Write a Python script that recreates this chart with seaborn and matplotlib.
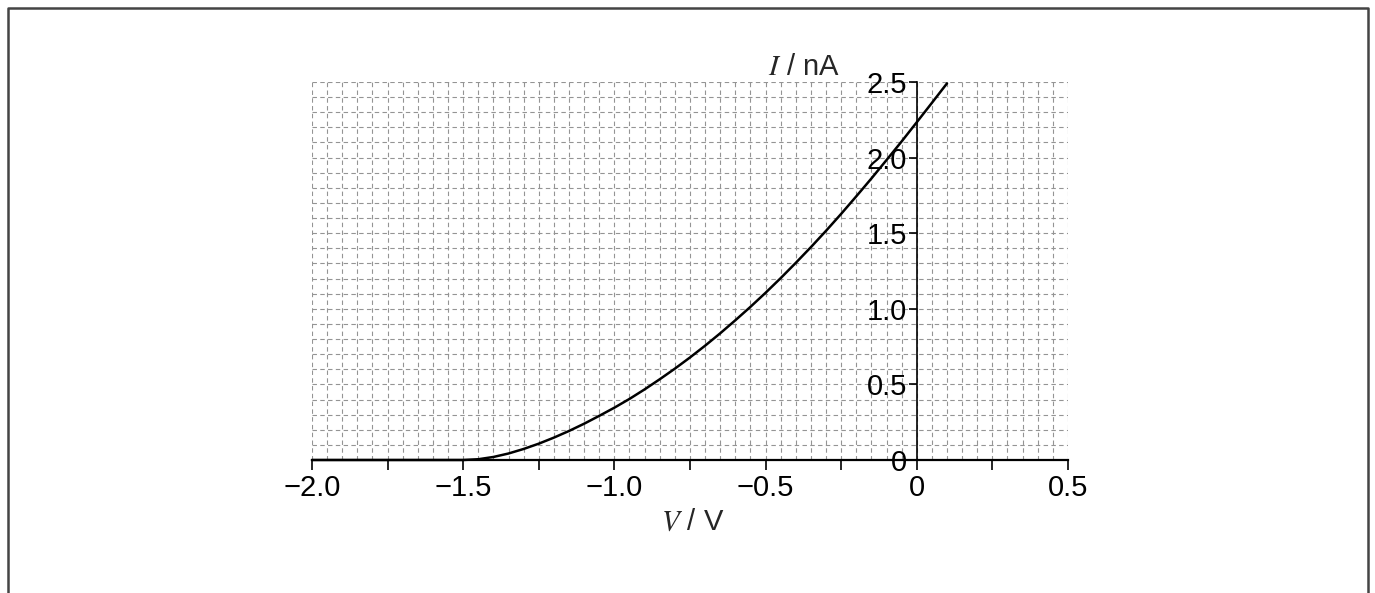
import pandas as pd
import seaborn as sns
import matplotlib.pyplot as plt
from matplotlib.ticker import MultipleLocator, FixedLocator, FixedFormatter

# I-V curve (V in volts, I in nA)
voltage = [-2.0, -1.5, -1.45, -1.4, -1.35, -1.3, -1.25, -1.2, -1.15, -1.1, -1.05,
           -1.0, -0.95, -0.9, -0.85, -0.8, -0.75, -0.7, -0.65, -0.6, -0.55,
           -0.5, -0.45, -0.4, -0.35, -0.3, -0.25, -0.2, -0.15, -0.1, -0.05,
           0.0, 0.05, 0.1]
current = [0.0, 0.0, 0.005, 0.02, 0.043, 0.073, 0.108, 0.148, 0.192, 0.24, 0.292,
           0.346, 0.404, 0.467, 0.534, 0.604, 0.678, 0.756, 0.838, 0.924, 1.013,
           1.106, 1.203, 1.304, 1.408, 1.516, 1.628, 1.744, 1.862, 1.984, 2.107,
           2.234, 2.362, 2.491]

x_ticks = [-2.0, -1.75, -1.5, -1.25, -1.0, -0.75, -0.5, -0.25, 0.0, 0.25, 0.5]
x_labels = ["\u22122.0", "", "\u22121.5", "", "\u22121.0", "", "\u22120.5", "", "0", "", "0.5"]
y_ticks = [0.0, 0.5, 1.0, 1.5, 2.0, 2.5]
y_labels = ["0", "0.5", "1.0", "1.5", "2.0", "2.5"]

df = pd.DataFrame({"V": voltage, "I": current})

sns.set_theme(style="white")
plt.rcParams['font.family'] = ['Liberation Sans', 'DejaVu Sans']
plt.rcParams['mathtext.fontset'] = 'stix'

fig = plt.figure(figsize=(13.75, 5.93), dpi=100)
ax = fig.add_axes([0.2269, 0.2243, 0.5498, 0.6374])

sns.lineplot(data=df, x="V", y="I", color="black", linewidth=1.8, ax=ax,
             clip_on=False, zorder=5)

ax.set_xlim(-2.0, 0.5)
ax.set_ylim(0, 2.5)

# fine graph-paper grid
ax.xaxis.set_major_locator(FixedLocator(x_ticks))
ax.xaxis.set_major_formatter(FixedFormatter(x_labels))
ax.xaxis.set_minor_locator(MultipleLocator(0.05))
ax.yaxis.set_major_locator(FixedLocator(y_ticks))
ax.yaxis.set_major_formatter(FixedFormatter(y_labels))
ax.yaxis.set_minor_locator(MultipleLocator(0.1))
ax.grid(which="both", color="#949494", linewidth=0.8, linestyle=(0, (4, 3)))
ax.set_axisbelow(True)

# axes through the origin
ax.spines["left"].set_position(("data", 0))
ax.spines["bottom"].set_position(("data", 0))
ax.spines["top"].set_visible(False)
ax.spines["right"].set_visible(False)
ax.spines["left"].set_linewidth(1.2)
ax.spines["bottom"].set_linewidth(1.6)
for s in ("left", "bottom"):
    ax.spines[s].set_color("black")
    ax.spines[s].set_zorder(4)

ax.tick_params(axis="x", which="major", direction="out", length=7, width=1.2,
               pad=3, labelsize=21, colors="black", bottom=True)
ax.tick_params(axis="y", which="major", direction="out", length=6, width=1.2,
               pad=1, labelsize=21, colors="black", left=True)
ax.tick_params(which="minor", length=0)

ax.set_xlabel("")
ax.set_ylabel("")
ax.text(0.698, 1.0185, "$I$ / nA", transform=ax.transAxes, ha="right",
        va="baseline", fontsize=21)
ax.text(0.504, -0.185, "$V$ / V", transform=ax.transAxes, ha="center",
        va="baseline", fontsize=21)

# page frame
x0, x1, y1 = 7.5 / 1375, 1367.5 / 1375, 1 - 7.5 / 593
fig.add_artist(plt.Line2D([x0, x0, x1, x1], [-0.1, y1, y1, -0.1],
                          transform=fig.transFigure, color="#444444", linewidth=1.8))

fig.savefig("out.png", dpi=100)
